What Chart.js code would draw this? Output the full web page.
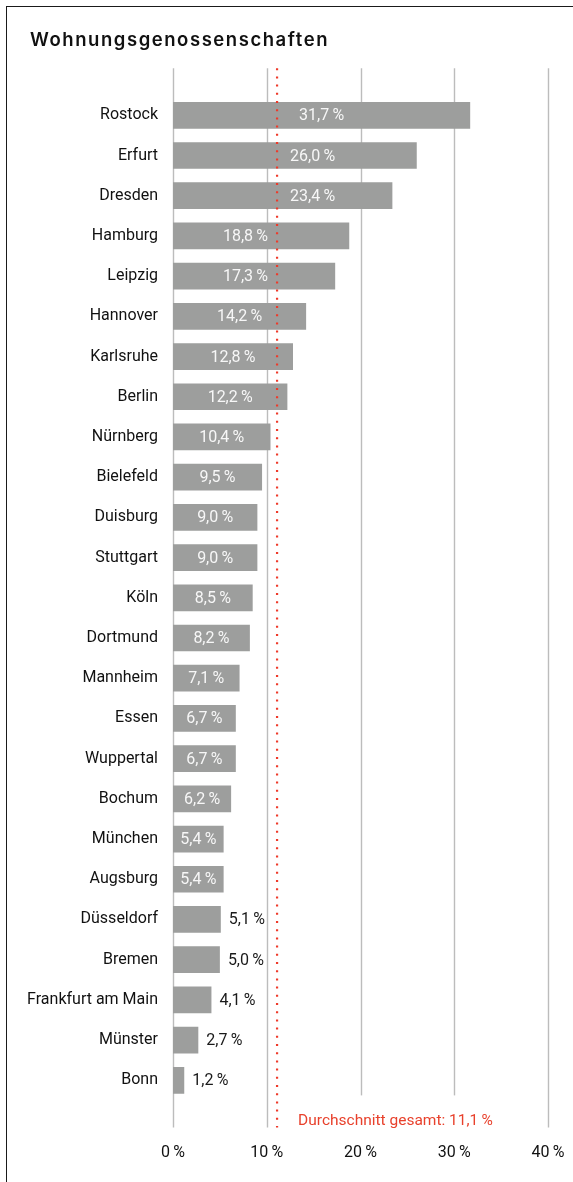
<!DOCTYPE html>
<html>
<head>
<meta charset="utf-8">
<script src="https://cdn.jsdelivr.net/npm/chart.js@4"></script>
<style>
body{margin:0;background:#fff}
#frame{position:absolute;left:6px;top:6px;width:700px;height:1300px;border-left:1.5px solid #1a1a1a;border-top:1.5px solid #1a1a1a}
#title{position:absolute;left:30px;top:30px;font:600 18.5px/18.5px Inter,"Liberation Sans",sans-serif;letter-spacing:1.55px;color:#111;white-space:nowrap}
#wrap{position:absolute;left:0;top:0;width:573px;height:1182px}
</style>
</head>
<body>
<div id="frame"></div>
<div id="wrap"><canvas id="chart" width="573" height="1182"></canvas></div>
<div id="title">Wohnungsgenossenschaften</div>
<script>
const cities=["Rostock","Erfurt","Dresden","Hamburg","Leipzig","Hannover","Karlsruhe","Berlin","Nürnberg","Bielefeld","Duisburg","Stuttgart","Köln","Dortmund","Mannheim","Essen","Wuppertal","Bochum","München","Augsburg","Düsseldorf","Bremen","Frankfurt am Main","Münster","Bonn"]
const shares=[31.7,26.0,23.4,18.8,17.3,14.2,12.8,12.2,10.4,9.5,9.0,9.0,8.5,8.2,7.1,6.7,6.7,6.2,5.4,5.4,5.1,5.0,4.1,2.7,1.2]
const average=11.1
const averageLabel="Durchschnitt gesamt: "
const axisMax=40
const axisStep=10

const labelFont="Roboto,sans-serif"
const pct=v=>v.toFixed(1).replace(".",",")+"\u2009%"

const extras={
id:"extras",
beforeDatasetsDraw(chart){
const ctx=chart.ctx,a=chart.chartArea,x=chart.scales.x
ctx.save()
ctx.strokeStyle="#bcbcbc"
ctx.lineWidth=1.4
x.ticks.forEach(t=>{
let px=Math.round(x.getPixelForValue(t.value))+0.5
ctx.beginPath()
ctx.moveTo(px,a.top-27)
ctx.lineTo(px,a.bottom+27)
ctx.stroke()
})
ctx.restore()
},
afterDatasetsDraw(chart){
const ctx=chart.ctx,a=chart.chartArea,x=chart.scales.x
const line=x.getPixelForValue(average)
ctx.save()
// white patch under the average label
ctx.font="15.5px "+labelFont
let txt=averageLabel+pct(average)
let tw=ctx.measureText(txt).width
ctx.fillStyle="#fff"
ctx.fillRect(line+8,a.bottom-5,tw+30,40)
ctx.fillStyle="#e8412c"
ctx.textBaseline="middle"
ctx.textAlign="left"
ctx.fillText(txt,line+21,a.bottom+21)

// value labels
ctx.font="16px "+labelFont
chart.getDatasetMeta(0).data.forEach((bar,i)=>{
let v=shares[i],t=pct(v),w=ctx.measureText(t).width
if(bar.x-bar.base<w+13){
ctx.fillStyle="#1a1a1a"
ctx.textAlign="left"
ctx.fillText(t,bar.x+8,bar.y+1)
return
}
let cx=(bar.base+bar.x)/2
if(cx+w/2>line-9&&cx-w/2<line+13){
if(bar.x-line>line-bar.base) cx=Math.max(cx,line+13+w/2)
else cx=Math.min(cx,line-9-w/2)
}
ctx.fillStyle="#f7f7f7"
ctx.textAlign="center"
ctx.fillText(t,cx,bar.y+1)
})

// dotted average line
ctx.strokeStyle="#ee3a2a"
ctx.lineWidth=2.2
ctx.setLineDash([2,6.2])
ctx.beginPath()
ctx.moveTo(line,a.top-27)
ctx.lineTo(line,a.bottom+27)
ctx.stroke()
ctx.restore()
}
}

new Chart(document.getElementById("chart"),{
type:"bar",
data:{
labels:cities,
datasets:[{
data:shares,
backgroundColor:"#9d9e9d",
borderWidth:0,
categoryPercentage:1,
barPercentage:0.664
}]
},
options:{
indexAxis:"y",
responsive:false,
animation:false,
devicePixelRatio:1,
layout:{padding:{left:12,right:25,top:95.2,bottom:0}},
plugins:{
legend:{display:false},
tooltip:{enabled:false}
},
scales:{
x:{
min:0,max:axisMax,
grid:{display:false,drawTicks:false},
border:{display:false},
ticks:{stepSize:axisStep,padding:43,color:"#111",font:{family:labelFont,size:16},callback:v=>v+"\u2009%"},
afterFit(s){s.height=81.6;s.paddingLeft=0;s.paddingRight=0}
},
y:{
grid:{display:false,drawTicks:false},
border:{display:false},
ticks:{padding:15,color:"#111",font:{family:labelFont,size:16}},
afterFit(s){s.width=161}
}
}
},
plugins:[extras]
})
</script>
</body>
</html>
